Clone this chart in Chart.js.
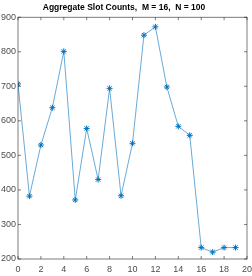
<!DOCTYPE html>
<html lang="en">
<head>
  <meta charset="UTF-8">
  <title>Aggregate Slot Counts</title>
  <script src="https://cdn.jsdelivr.net/npm/chart.js"></script>
  <style>
    body { margin: 0; background: #fff; }
    canvas { display: block; }
  </style>
</head>
<body>
<canvas id="slotChart" width="252" height="276"></canvas>
<script>
// values
const slots = [0, 1, 2, 3, 4, 5, 6, 7, 8, 9, 10, 11, 12, 13, 14, 15, 16, 17, 18, 19];
const counts = [707, 382, 530, 638, 801, 371, 578, 430, 694, 383, 535, 848, 872, 698, 584, 558, 233, 220, 233, 233];
const xTicks = [0, 2, 4, 6, 8, 10, 12, 14, 16, 18, 20];
const yTicks = [200, 300, 400, 500, 600, 700, 800, 900];

const fontFamily = "'Liberation Sans', Arial, sans-serif";
const axisColor = '#262626';

// matlab style box with inward tick marks
const boxTicks = {
  id: 'boxTicks',
  afterDraw(chart) {
    const { ctx, chartArea: a, scales } = chart;
    const len = 3;
    ctx.save();
    ctx.strokeStyle = axisColor;
    ctx.lineWidth = 0.6;
    ctx.strokeRect(a.left, a.top, a.right - a.left, a.bottom - a.top);
    ctx.beginPath();
    xTicks.forEach(v => {
      const px = scales.x.getPixelForValue(v);
      ctx.moveTo(px, a.bottom); ctx.lineTo(px, a.bottom - len);
      ctx.moveTo(px, a.top); ctx.lineTo(px, a.top + len);
    });
    yTicks.forEach(v => {
      const py = scales.y.getPixelForValue(v);
      ctx.moveTo(a.left, py); ctx.lineTo(a.left + len, py);
      ctx.moveTo(a.right, py); ctx.lineTo(a.right - len, py);
    });
    ctx.stroke();
    ctx.restore();
  }
};

new Chart(document.getElementById('slotChart'), {
  type: 'line',
  data: {
    datasets: [{
      data: slots.map((s, i) => ({ x: s, y: counts[i] })),
      borderColor: '#0072BD',
      backgroundColor: '#0072BD',
      borderWidth: 0.6,
      pointStyle: 'star',
      pointRadius: 3,
      pointBorderWidth: 1,
      pointBorderColor: '#0072BD',
      tension: 0,
      fill: false
    }]
  },
  options: {
    responsive: false,
    animation: false,
    layout: { padding: { left: 0, right: 4, top: 0, bottom: 0 } },
    plugins: {
      legend: { display: false },
      tooltip: { enabled: false },
      title: {
        display: true,
        text: 'Aggregate Slot Counts,  M = 16,  N = 100',
        color: '#000',
        font: { family: fontFamily, size: 8.5, weight: 'bold' },
        padding: { top: 3, bottom: 4 }
      }
    },
    scales: {
      x: {
        type: 'linear',
        min: 0, max: 20,
        afterBuildTicks: s => { s.ticks = xTicks.map(v => ({ value: v })); },
        afterFit: s => { s.height = 17; s.paddingLeft = 0; s.paddingRight = 0; },
        grid: { display: false, drawTicks: false },
        border: { display: false },
        ticks: { color: '#4d4d4d', padding: 5, maxRotation: 0, font: { family: fontFamily, size: 9 } }
      },
      y: {
        min: 200, max: 900,
        afterBuildTicks: s => { s.ticks = yTicks.map(v => ({ value: v })); },
        afterFit: s => { s.width = 18; s.paddingTop = 0; s.paddingBottom = 0; },
        grid: { display: false, drawTicks: false },
        border: { display: false },
        ticks: { color: '#4d4d4d', padding: 2, font: { family: fontFamily, size: 9 } }
      }
    }
  },
  plugins: [boxTicks]
});
</script>
</body>
</html>
